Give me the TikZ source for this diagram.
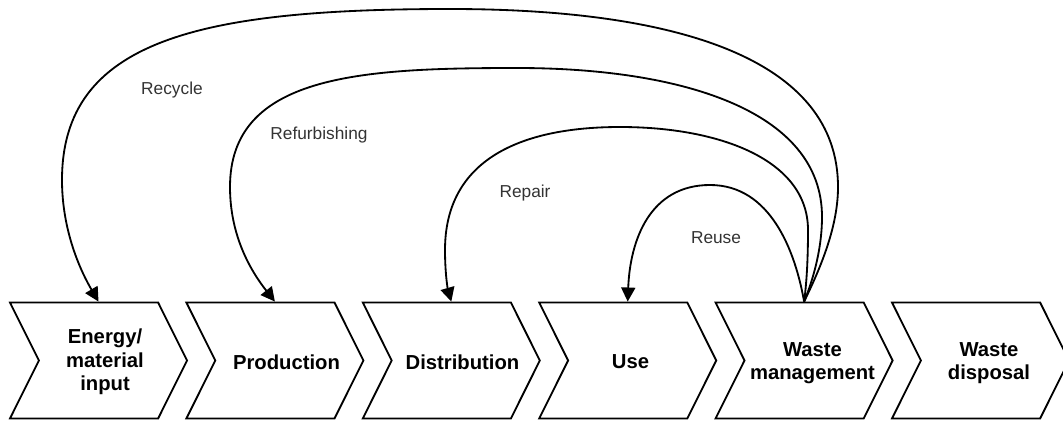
\documentclass[tikz,border=0pt]{standalone}
\usepackage{fontspec}
\setmainfont{Liberation Sans}
\usetikzlibrary{shapes.symbols,arrows.meta}
\tikzset{
  stage/.style={shape=signal, signal to=east, signal from=west,
    signal pointer angle=127, draw, line width=1.3pt,
    minimum width=4.425cm, minimum height=2.9cm, inner sep=0pt},
  stagetext/.style={font=\bfseries\fontsize{14.4}{16.7}\selectfont, align=center},
  back/.style={line width=1.3pt, -{Triangle[length=10pt,width=10pt]}},
  backtext/.style={font=\fontsize{12.3}{14}\selectfont, text=black!80},
}
\begin{document}
\begin{tikzpicture}[x=0.025cm, y=-0.025cm]
    \useasboundingbox (0,0) rectangle (1063,421);
    % process chain
    \node[stage] (input) at (98.5,360.5) {};
    \node[stage] (prod)  at (274.9,360.5) {};
    \node[stage] (dist)  at (451.3,360.5) {};
    \node[stage] (use)   at (627.7,360.5) {};
    \node[stage] (wm)    at (804.1,360.5) {};
    \node[stage] (disp)  at (980.5,360.5) {};
    \node[stagetext] (inputtxt) at (105,362) {Energy/\\material\\input};
    \node[stagetext] (prodtxt)  at (286.5,362) {Production};
    \node[stagetext] (disttxt)  at (462.5,362) {Distribution};
    \node[stagetext] (usetxt)   at (630.5,362) {Use};
    \node[stagetext] (wmtxt)    at (812.5,363) {Waste\\management};
    \node[stagetext] (disptxt)  at (989,363) {Waste\\disposal};
    % loops back from waste management
    \draw[back] (wm.north) .. controls (822,265) and (838,225) .. (838,187)
                ..controls (838,60) and (680,9) .. (450,9)
                ..controls (200,9) and (62,40) .. (62,180)
                ..controls (62,230) and (80,270) .. (input.north);
    \draw[back] (wm.north) .. controls (815,275) and (822,245) .. (822,217)
                ..controls (822,110) and (680,68) .. (517,68)
                ..controls (360,68) and (230,75) .. (230,187)
                ..controls (230,235) and (250,270) .. (prod.north);
    \draw[back] (wm.north) .. controls (807,280) and (808,255) .. (808,230)
                ..controls (808,160) and (720,127) .. (620,127)
                ..controls (520,127) and (445,160) .. (445,250)
                ..controls (445,275) and (448,290) .. (dist.north);
    \draw[back] (wm.north) .. controls (795,250) and (770,185) .. (710,185)
                ..controls (650,185) and (630,240) .. (use.north);
    \node[backtext] (recycle) at (172,90)  {Recycle};
    \node[backtext] (refurb)  at (319,135) {Refurbishing};
    \node[backtext] (repair)  at (525,193) {Repair};
    \node[backtext] (reuse)   at (716,238) {Reuse};
\end{tikzpicture}
\end{document}
